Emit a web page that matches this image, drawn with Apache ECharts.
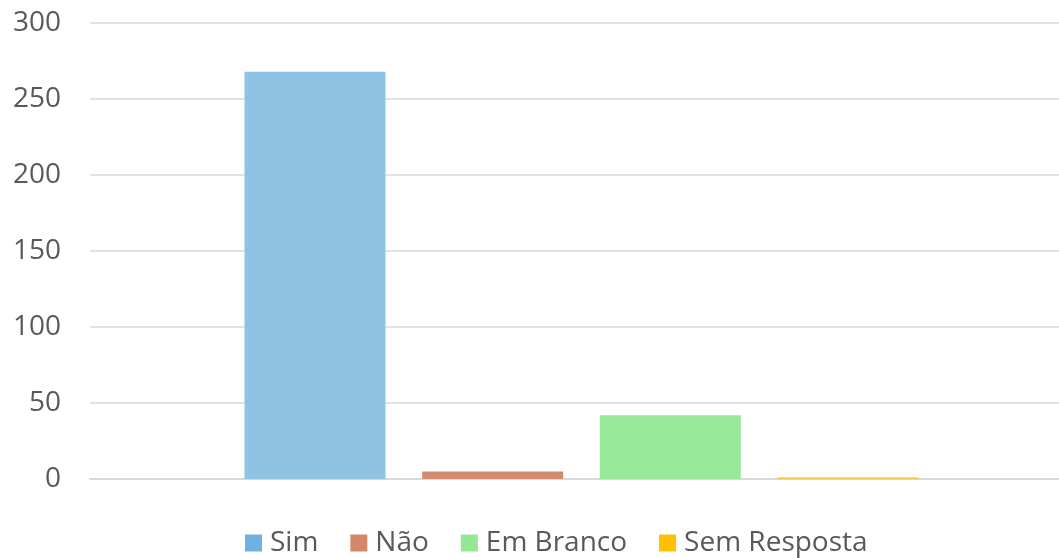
<!DOCTYPE html>
<html><head><meta charset="utf-8">
<script src="https://cdn.jsdelivr.net/npm/echarts@6/dist/echarts.min.js"></script>
<style>html,body{margin:0;padding:0;background:#fff;overflow:hidden;width:1059px;height:558px}#c{width:1073px;height:558px}</style>
</head><body><div id="c"></div>
<script>
const categories = ['Resposta'];
const seriesNames = ['Sim', 'Não', 'Em Branco', 'Sem Resposta'];
const sim = [268];
const nao = [5];
const emBranco = [42];
const semResposta = [1];
const yTicks = [0, 50, 100, 150, 200, 250, 300];

const barColors = ['#8fc3e3', '#d48a71', '#97e997', '#f2c24a'];
const legendColors = ['#70b1dd', '#d4876d', '#94e894', '#ffc000'];
const values = [sim, nao, emBranco, semResposta];

const chart = echarts.init(document.getElementById('c'));
const font = 'Open Sans';
chart.setOption({
  animation: false,
  textStyle: { fontFamily: font },
  grid: { left: 90, right: 0, top: 23, bottom: 79, containLabel: false },
  legend: {
    left: 245, top: 528, padding: 0,
    itemWidth: 17, itemHeight: 17, itemGap: 32,
    icon: 'rect',
    textStyle: { fontSize: 28, lineHeight: 30, color: '#595959', fontFamily: font, padding: [0, 0, 0, 3] },
    data: seriesNames.map((n, i) => ({ name: n, itemStyle: { color: legendColors[i] } }))
  },
  xAxis: {
    type: 'category', data: categories,
    axisLine: { lineStyle: { color: '#d9d9d9', width: 2 } },
    axisTick: { show: false }, axisLabel: { show: false }
  },
  yAxis: {
    type: 'value', min: yTicks[0], max: yTicks[yTicks.length - 1], interval: 50,
    axisLine: { show: false }, axisTick: { show: false },
    axisLabel: { fontSize: 28, color: '#595959', margin: 29, fontFamily: font },
    splitLine: { lineStyle: { color: '#d9d9d9', width: 1.5 } }
  },
  series: seriesNames.map((n, i) => ({
    name: n, type: 'bar', data: values[i],
    barWidth: 141, barGap: '26%',
    itemStyle: { color: barColors[i] }
  }))
});
</script></body></html>
